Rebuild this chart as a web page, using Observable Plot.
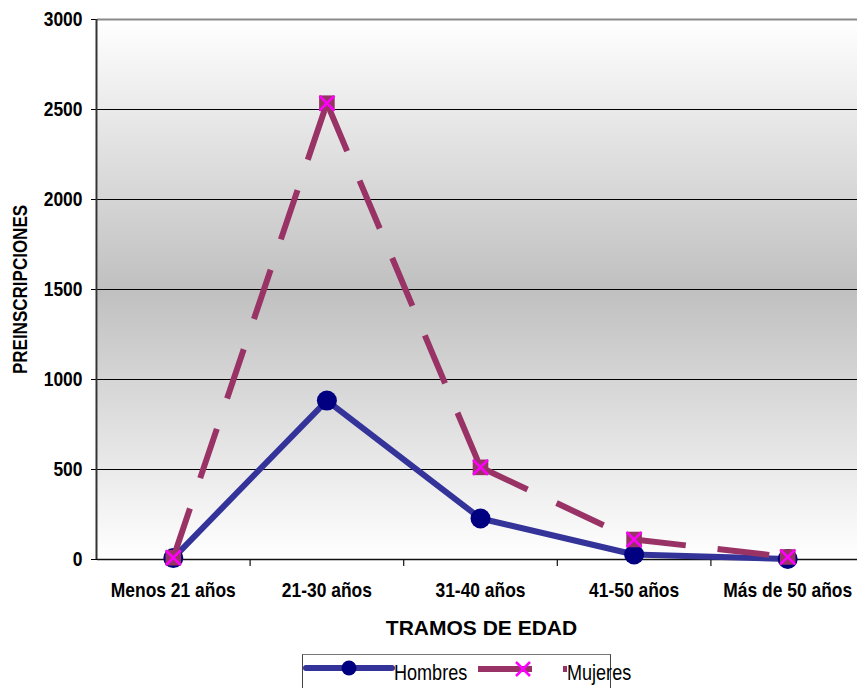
<!DOCTYPE html>
<html>
<head>
<meta charset="utf-8">
<script src="https://cdn.jsdelivr.net/npm/d3@7"></script>
<script src="https://cdn.jsdelivr.net/npm/@observablehq/plot@0.6"></script>
<style>
  body { margin: 0; background: #fff; width: 857px; height: 688px; overflow: hidden; position: relative; }
  #chart { position: absolute; left: 0; top: 0; }
  #legend { position: absolute; left: 302px; top: 654px; width: 309px; height: 40px; border: 1px solid #444; border-top-color: #777; box-sizing: border-box; background: #fff; }
  #legend svg { position: absolute; left: -1px; top: -1px; overflow: visible; }
</style>
</head>
<body>
<div id="chart"></div>
<div id="legend"></div>
<script>
const categories = ["Menos 21 años", "21-30 años", "31-40 años", "41-50 años", "Más de 50 años"];
const hombres = [8, 883, 228, 28, 3];
const mujeres = [10, 2535, 512, 111, 14];
const yTicks = [0, 500, 1000, 1500, 2000, 2500, 3000];
const seriesNames = ["Hombres", "Mujeres"];
const yTitle = "PREINSCRIPCIONES";
const xTitle = "TRAMOS DE EDAD";

const font = "'Liberation Sans', Arial, sans-serif";

const idx = categories.map((_, i) => i);
const hRows = idx.map(i => ({i, v: hombres[i]}));
const mRows = idx.map(i => ({i, v: mujeres[i]}));
const mSegs = d3.pairs(mRows).map(([a, b]) => ({x1: a.i, y1: a.v, x2: b.i, y2: b.v}));
const boundaries = categories.slice(1).map((_, i) => i + 0.5);

const plot = Plot.plot({
  width: 857,
  height: 645,
  marginLeft: 97,
  marginRight: 0,
  marginTop: 19,
  marginBottom: 86,
  style: { fontFamily: font, fontSize: "21px", fontWeight: "bold", color: "#000", background: "transparent" },
  x: {
    domain: [-0.5, categories.length - 0.5],
    range: [96, 864],
    ticks: idx,
    tickFormat: i => categories[i],
    tickSize: 0,
    tickPadding: 23,
    label: null
  },
  y: {
    domain: [0, 3000],
    ticks: yTicks,
    tickFormat: d => String(d),
    tickSize: 6,
    tickPadding: 9,
    label: null
  },
  marks: [
    Plot.frame({ fill: "url(#bgGrad)", stroke: null }),
    Plot.ruleY(yTicks.filter(d => d > 0 && d < 3000), { stroke: "#000", strokeWidth: 1 }),
    Plot.ruleY([3000], { stroke: "#8a8a8a", strokeWidth: 2 }),
    Plot.ruleY([0], { stroke: "#111", strokeWidth: 1.5 }),
    Plot.ruleX([-0.5], { y1: 0, y2: 3000, stroke: "#333", strokeWidth: 2 }),
    Plot.ruleX(boundaries, { y1: 0, y2: 0, insetBottom: -7, stroke: "#111", strokeWidth: 1.2 }),
    // Hombres
    Plot.line(hRows, { x: "i", y: "v", stroke: "#333399", strokeWidth: 6, strokeLinejoin: "round", strokeLinecap: "round" }),
    Plot.dot(hRows, { x: "i", y: "v", r: 10, fill: "#000080", stroke: null }),
    // Mujeres (dash pattern restarts at each segment)
    Plot.link(mSegs, { x1: "x1", y1: "y1", x2: "x2", y2: "y2", stroke: "#993366", strokeWidth: 6, strokeDasharray: "52,32", strokeLinecap: "butt" }),
    Plot.dot(mRows, { x: "i", y: "v", symbol: "square", r: 8.8, fill: "#993366", stroke: null }),
    Plot.dot(mRows, { x: "i", y: "v", symbol: "times", r: 6.8, fill: "none", stroke: "#ff00ff", strokeWidth: 2.5 }),
    // axis titles
    Plot.text([yTitle], { text: d => d, frameAnchor: "left", dx: -77, rotate: -90, fontSize: 20.5, fill: "#000", textAnchor: "middle", lineAnchor: "middle" }),
    Plot.text([xTitle], { text: d => d, frameAnchor: "bottom", dx: 4, dy: 69, fontSize: 21, fontWeight: "bold", fill: "#000", textAnchor: "middle", lineAnchor: "middle" })
  ]
});

// background gradient (white -> grey -> white)
const defs = d3.select(plot).insert("defs", ":first-child");
const grad = defs.append("linearGradient").attr("id", "bgGrad").attr("x1", 0).attr("y1", 0).attr("x2", 0).attr("y2", 1);
grad.append("stop").attr("offset", "0%").attr("stop-color", "#ffffff");
grad.append("stop").attr("offset", "50%").attr("stop-color", "#c0c0c0");
grad.append("stop").attr("offset", "100%").attr("stop-color", "#ffffff");

document.getElementById("chart").appendChild(plot);

// legend
const lg = d3.select("#legend").append("svg").attr("width", 310).attr("height", 40);
lg.append("line").attr("x1", 4).attr("x2", 90).attr("y1", 14).attr("y2", 14)
  .attr("stroke", "#333399").attr("stroke-width", 6).attr("stroke-linecap", "round");
lg.append("circle").attr("cx", 47).attr("cy", 14).attr("r", 7.5).attr("fill", "#000080");
lg.append("text").attr("class", "lgtext").attr("x", 92).attr("y", 26).text(seriesNames[0])
  .attr("font-family", font).attr("font-size", 22).attr("fill", "#000");
lg.append("line").attr("x1", 176).attr("x2", 265).attr("y1", 15).attr("y2", 15)
  .attr("stroke", "#993366").attr("stroke-width", 6).attr("stroke-dasharray", "54,31");
lg.append("path").attr("d", "M214,8L228,22M228,8L214,22").attr("stroke", "#ff00ff").attr("stroke-width", 2.5).attr("fill", "none");
lg.append("text").attr("class", "lgtext").attr("x", 265).attr("y", 26).text(seriesNames[1])
  .attr("font-family", font).attr("font-size", 22).attr("fill", "#000");

// narrow-typeface look: condense glyphs horizontally (x title keeps normal width)
function condense(t, k) {
  const len = t.getComputedTextLength();
  if (len > 0) {
    t.setAttribute("textLength", (len * k).toFixed(1));
    t.setAttribute("lengthAdjust", "spacingAndGlyphs");
  }
}
plot.querySelectorAll("text").forEach(t => {
  if (t.textContent === xTitle) return;
  condense(t, 0.83);
});
document.querySelectorAll("#legend text").forEach(t => condense(t, 0.82));
</script>
</body>
</html>
